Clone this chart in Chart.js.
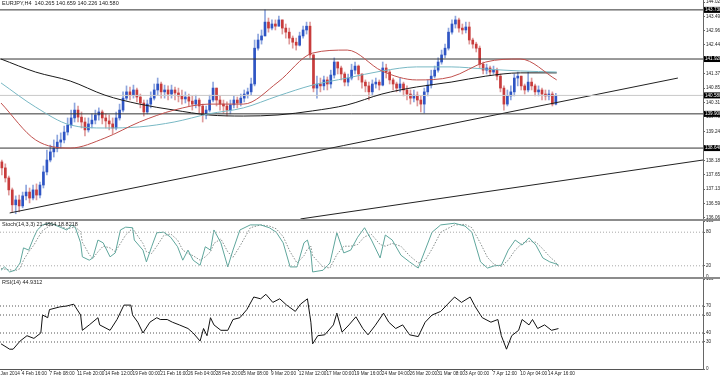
<!DOCTYPE html>
<html lang="en">
  <head>
    <meta charset="UTF-8" />
    <title>EURJPY,H4</title>
    <script src="https://cdn.jsdelivr.net/npm/chart.js"></script>
    <style>
      body { margin: 0; background: #fff; width: 720px; height: 376px; overflow: hidden; position: relative; }
      canvas { position: absolute; left: 0; }
      .sep { position: absolute; left: 0; width: 720px; height: 2px; background: #8c8c8c; }
    </style>
  </head>
  <body>
    <canvas id="mainChart" style="top:0" width="720" height="219"></canvas>
    <div class="sep" style="top:219px"></div>
    <canvas id="stochChart" style="top:221px" width="720" height="56"></canvas>
    <div class="sep" style="top:277px"></div>
    <canvas id="rsiChart" style="top:279px" width="720" height="97"></canvas>

    <script>
      // candles: each one covers two H4 bars
      const firstOpen = 138.13;
      const closes = [
        137.91, 137.54, 137.10, 136.55, 136.73, 136.51, 136.88, 137.02, 136.80, 137.10, 136.91,
        137.28, 137.76, 138.20, 138.50, 138.64, 138.86, 138.94, 139.23, 139.49, 139.75,
        140.04, 139.78, 139.60, 139.31, 139.53, 139.67, 139.86, 139.97, 139.75, 139.64,
        139.53, 139.38, 139.75, 140.04, 140.48, 140.71, 140.59, 140.78, 140.52, 140.30,
        139.97, 140.26, 140.48, 140.78, 141.00, 140.71, 140.78, 140.63, 140.78, 140.67,
        140.56, 140.45, 140.52, 140.37, 140.26, 140.41, 140.19, 139.86, 140.04, 140.41,
        140.85, 140.41, 140.26, 140.19, 140.04, 140.23, 140.41, 140.30, 140.48, 140.63,
        140.71, 141.00, 142.32, 142.62, 142.77, 143.28, 143.06, 143.21, 143.13, 143.36,
        143.06, 142.91, 142.69, 142.54, 142.43, 142.77, 142.99, 143.13, 142.07, 140.85,
        141.00, 140.93, 141.15, 141.00, 141.33, 141.81, 141.59, 141.37, 141.07, 141.22,
        141.51, 141.66, 141.37, 141.07, 140.93, 140.71, 141.00, 141.07, 140.96, 141.59,
        141.44, 141.15, 141.00, 140.85, 141.00, 140.78, 140.63, 140.48, 140.59, 140.41,
        140.26, 140.71, 140.96, 141.29, 141.51, 141.81, 142.07, 142.32, 142.91, 143.21,
        143.36, 143.06, 142.99, 143.10, 142.62, 142.47, 142.32, 141.73, 141.51, 141.59,
        141.44, 141.51, 141.29, 140.85, 140.26, 140.56, 140.71, 141.22, 141.29, 140.93,
        140.78, 141.07, 140.93, 140.71, 140.78, 140.63, 140.56, 140.63, 140.26, 140.58
      ];
      const highs = [
        138.20, 138.06, 137.61, 137.17, 136.88, 136.91, 137.02, 137.28, 137.17, 137.28, 137.32,
        137.39, 137.98, 138.57, 138.75, 138.94, 139.12, 139.20, 139.45, 139.75, 140.04,
        140.30, 140.19, 139.97, 139.75, 139.75, 139.90, 140.04, 140.12, 140.04, 139.90,
        139.86, 139.75, 139.97, 140.26, 140.71, 140.93, 140.89, 140.96, 140.85, 140.63,
        140.41, 140.41, 140.71, 141.00, 141.22, 141.07, 140.96, 140.93, 140.96, 140.89,
        140.85, 140.78, 140.71, 140.63, 140.56, 140.59, 140.48, 140.26, 140.19, 140.59,
        141.07, 140.85, 140.56, 140.41, 140.34, 140.41, 140.56, 140.52, 140.63, 140.78,
        140.85, 141.22, 142.62, 142.84, 142.99, 143.73, 143.43, 143.36, 143.36, 143.50,
        143.36, 143.21, 143.06, 142.77, 142.69, 142.91, 143.13, 143.28, 143.28, 142.10,
        141.29, 141.22, 141.29, 141.26, 141.51, 141.96, 141.81, 141.66, 141.44, 141.37,
        141.73, 141.81, 141.70, 141.37, 141.15, 141.07, 141.15, 141.22, 141.15, 141.81,
        141.73, 141.51, 141.22, 141.07, 141.22, 141.07, 140.93, 140.78, 140.78, 140.71,
        140.56, 140.85, 141.15, 141.51, 141.66, 141.96, 142.25, 142.47, 143.06, 143.36,
        143.50, 143.43, 143.21, 143.28, 143.28, 142.69, 142.54, 142.40, 141.81, 141.73,
        141.66, 141.66, 141.59, 141.37, 140.93, 140.78, 140.93, 141.37, 141.44, 141.29,
        141.00, 141.44, 141.22, 141.00, 140.93, 140.85, 140.78, 140.78, 140.71, 140.66
      ];
      const lows = [
        137.65, 137.39, 136.91, 136.29, 136.22, 136.29, 136.44, 136.73, 136.62, 136.73, 136.73,
        136.80, 137.17, 137.65, 138.13, 138.31, 138.50, 138.64, 138.83, 139.12, 139.38,
        139.60, 139.60, 139.38, 139.09, 139.23, 139.38, 139.53, 139.67, 139.53, 139.38,
        139.31, 139.16, 139.31, 139.67, 139.97, 140.41, 140.41, 140.48, 140.34, 140.12,
        139.82, 139.90, 140.12, 140.41, 140.59, 140.48, 140.48, 140.41, 140.48, 140.41,
        140.34, 140.26, 140.30, 140.19, 140.04, 140.12, 139.93, 139.60, 139.71, 139.97,
        140.34, 140.19, 140.04, 139.93, 139.82, 139.90, 140.12, 140.12, 140.19, 140.34,
        140.48, 140.59, 140.93, 142.25, 142.47, 142.77, 142.91, 142.99, 142.99, 143.13,
        142.84, 142.69, 142.47, 142.32, 142.25, 142.40, 142.69, 142.84, 141.96, 140.71,
        140.48, 140.71, 140.78, 140.78, 140.85, 141.22, 141.37, 141.15, 140.93, 140.93,
        141.15, 141.37, 141.15, 140.85, 140.71, 140.41, 140.59, 140.85, 140.78, 140.93,
        141.22, 141.00, 140.78, 140.71, 140.71, 140.56, 140.41, 140.26, 140.34, 140.19,
        139.97, 139.93, 140.56, 140.85, 141.22, 141.44, 141.73, 141.96, 142.25, 142.84,
        143.06, 142.91, 142.84, 142.88, 142.47, 142.32, 142.18, 141.59, 141.37, 141.37,
        141.33, 141.37, 141.15, 140.71, 140.04, 140.19, 140.41, 140.56, 140.93, 140.78,
        140.63, 140.71, 140.78, 140.56, 140.56, 140.41, 140.41, 140.41, 140.19, 140.23
      ];

      // moving averages, sampled at these bars
      const maBars = [0, 20, 40, 60, 80, 100, 120, 140, 160, 180, 200, 220, 240, 260, 280, 300, 321];
      const blackMA = [141.92, 141.44, 141.11, 140.59, 140.26, 140.04, 139.86, 139.82, 139.86, 140.01, 140.23, 140.63, 140.89, 141.07, 141.29, 141.41, 141.41];
      const tealMA = [141.04, 140.15, 139.49, 139.38, 139.42, 139.60, 139.90, 140.12, 140.56, 140.96, 141.22, 141.48, 141.63, 141.63, 141.55, 141.48, 141.44];
      const redMA = [140.30, 138.94, 138.64, 139.01, 139.60, 140.04, 140.26, 140.26, 141.07, 142.14, 142.25, 141.48, 141.15, 141.26, 141.81, 141.92, 141.15];

      // drawn objects
      const hLevels = [143.73, 141.92, 139.90, 138.64];
      const bidPrice = 140.58;
      const trend1Bars = [5, 391];
      const trend1 = [136.25, 141.22];
      const trend2Bars = [173, 405.5];
      const trend2 = [136.03, 138.20];

      const priceTicks = [144.020, 143.495, 142.965, 142.440, 141.375, 140.850, 140.310, 139.785, 139.245, 138.180, 137.655, 137.130, 136.590, 136.065];

      // stochastic (14,3,3)
      const stochBars = [0, 2, 5, 8, 11, 13, 16, 19, 21, 24, 28, 31, 35, 38, 41, 43, 46, 47, 51, 53, 56, 59, 63, 66, 69, 72, 76, 77, 82, 84, 87, 90, 94, 98, 102, 105, 108, 111, 115, 118, 121, 123, 127, 131, 134, 138, 144, 150, 155, 159, 163, 167, 171, 175, 177, 179, 180, 186, 190, 194, 198, 202, 206, 210, 214, 219, 222, 226, 231, 236, 241, 245, 249, 254, 262, 268, 272, 277, 281, 285, 289, 293, 297, 301, 305, 309, 313, 317, 320, 322];
      const stochMain = [12, 18, 9, 12, 25, 52, 48, 71, 84, 93, 96, 93, 88, 84, 93, 88, 61, 36, 30, 34, 66, 61, 36, 43, 84, 89, 88, 66, 48, 27, 54, 79, 80, 71, 54, 30, 48, 30, 21, 54, 48, 84, 61, 18, 48, 84, 93, 93, 88, 80, 61, 18, 18, 61, 66, 43, 9, 12, 25, 79, 43, 48, 71, 88, 66, 34, 75, 66, 39, 27, 16, 48, 80, 93, 96, 91, 80, 27, 16, 20, 21, 48, 66, 57, 70, 57, 34, 27, 24, 21.49];
      const stochSignal = [15, 14, 13, 11, 15, 30, 45, 57, 68, 83, 91, 94, 90, 86, 88, 89, 81, 62, 40, 33, 45, 55, 52, 45, 60, 75, 87, 82, 60, 45, 42, 55, 74, 77, 66, 48, 42, 38, 30, 36, 45, 60, 68, 45, 35, 55, 88, 93, 91, 86, 72, 45, 25, 38, 50, 55, 38, 18, 16, 40, 55, 55, 58, 72, 76, 58, 55, 60, 55, 38, 25, 30, 50, 80, 93, 94, 88, 60, 35, 22, 19, 30, 48, 60, 64, 62, 50, 36, 28, 18.82];

      // RSI(14)
      const rsiBars = [0, 5, 7, 11, 15, 19, 23, 24, 27, 28, 34, 38, 42, 46, 47, 51, 56, 57, 63, 67, 71, 75, 76, 79, 82, 86, 90, 92, 96, 99, 103, 108, 111, 115, 117, 119, 121, 123, 127, 131, 134, 138, 142, 146, 150, 153, 157, 161, 165, 170, 173, 177, 179, 180, 183, 187, 192, 194, 197, 201, 205, 209, 212, 216, 221, 224, 228, 232, 236, 241, 245, 249, 254, 258, 262, 266, 271, 274, 278, 283, 287, 289, 292, 295, 299, 301, 305, 307, 310, 314, 318, 322];
      const rsiValues = [28, 22, 22, 31, 37, 34, 40, 60, 57, 66, 69, 70, 72, 60, 43, 49, 57, 49, 43, 55, 71, 71, 60, 52, 40, 52, 57, 55, 55, 52, 49, 45, 40, 31, 45, 37, 57, 49, 43, 43, 55, 57, 66, 80, 78, 83, 74, 78, 71, 64, 72, 78, 52, 28, 37, 38, 49, 62, 41, 49, 58, 45, 38, 48, 62, 52, 45, 49, 38, 36, 52, 60, 64, 72, 80, 74, 80, 69, 57, 52, 55, 37, 22, 37, 43, 55, 49, 55, 45, 49, 43, 44.93];

      const dateLabels = ["31 Jan 2014", "4 Feb 16:00", "7 Feb 08:00", "11 Feb 20:00", "14 Feb 12:00", "19 Feb 00:00", "21 Feb 16:00", "26 Feb 04:00", "28 Feb 20:00", "5 Mar 08:00", "9 Mar 20:00", "12 Mar 12:00", "17 Mar 00:00", "19 Mar 16:00", "24 Mar 04:00", "26 Mar 20:00", "31 Mar 08:00", "3 Apr 00:00", "7 Apr 12:00", "10 Apr 04:00", "14 Apr 16:00"];

      const X_MIN = -0.58;
      const X_MAX = 405.5;
      const FONT = '"Liberation Sans", Arial, sans-serif';
      Chart.defaults.font.family = FONT;
      Chart.defaults.color = "#222";

      const pts = (xs, ys) => xs.map((x, i) => ({ x: x, y: ys[i] }));
      const flat = (v) => [{ x: X_MIN, y: v }, { x: X_MAX, y: v }];

      const opens = closes.map((c, i) => (i === 0 ? firstOpen : closes[i - 1]));
      const candleX = closes.map((c, i) => 2 * i + 0.5);
      const isUp = closes.map((c, i) => c >= opens[i]);

      function rightAxis(min, max, ticks, fmt) {
        return {
          position: "right",
          min: min,
          max: max,
          afterBuildTicks: (s) => { s.ticks = ticks.map((v) => ({ value: v })); },
          afterFit: (s) => { s.width = 17; s.paddingTop = 0; s.paddingBottom = 0; },
          grid: { drawOnChartArea: false, tickLength: 2, color: "#666" },
          border: { color: "#666" },
          ticks: { font: { size: 4.6 }, color: "#222", padding: 1, callback: fmt },
        };
      }
      const hiddenX = { type: "linear", min: X_MIN, max: X_MAX, offset: false, display: false };

      function label(text) {
        return {
          id: "label",
          afterDraw(chart) {
            const ctx = chart.ctx;
            ctx.save();
            ctx.font = "5.5px " + FONT;
            ctx.fillStyle = "#222";
            ctx.textBaseline = "top";
            ctx.fillText(text, 2, 1);
            ctx.restore();
          },
        };
      }

      const priceBoxes = {
        id: "priceBoxes",
        afterDraw(chart) {
          const { ctx, scales } = chart;
          const y = scales.y;
          ctx.save();
          ctx.font = "4.6px " + FONT;
          ctx.textBaseline = "middle";
          hLevels.concat([bidPrice]).forEach((v) => {
            const py = y.getPixelForValue(v);
            ctx.fillStyle = "#000";
            ctx.fillRect(y.left + 1, py - 3, 17, 6);
            ctx.fillStyle = "#fff";
            ctx.fillText(v.toFixed(3), y.left + 2, py);
          });
          ctx.restore();
        },
      };

      const lineDs = (data, color, extra) =>
        Object.assign({ type: "line", data: data, borderColor: color, borderWidth: 1, pointRadius: 0, order: 0 }, extra || {});

      new Chart(document.getElementById("mainChart"), {
        type: "bar",
        data: {
          datasets: [
            lineDs(pts(maBars, redMA), "#c0504d", { cubicInterpolationMode: "monotone" }),
            lineDs(pts(maBars, tealMA), "#78b8c4", { cubicInterpolationMode: "monotone" }),
            lineDs(pts(maBars, blackMA), "#1a1a1a", { cubicInterpolationMode: "monotone" }),
            ...hLevels.map((v) => lineDs(flat(v), "#333")),
            lineDs(flat(bidPrice), "#c8c8c8"),
            lineDs(pts(trend1Bars, trend1), "#222"),
            lineDs(pts(trend2Bars, trend2), "#222"),
            {
              data: closes.map((c, i) => ({ x: candleX[i], y: [opens[i], c] })),
              backgroundColor: isUp.map((u) => (u ? "#2f55c4" : "#c83c3c")),
              barThickness: 2,
              minBarLength: 1,
              grouped: false,
              order: 1,
            },
            {
              data: closes.map((c, i) => ({ x: candleX[i], y: [lows[i], highs[i]] })),
              backgroundColor: isUp.map((u) => (u ? "#8ea6de" : "#de9a9a")),
              barThickness: 1,
              grouped: false,
              order: 2,
            },
          ],
        },
        options: {
          responsive: false,
          animation: false,
          devicePixelRatio: 1,
          layout: { padding: 0 },
          plugins: { legend: { display: false }, tooltip: { enabled: false } },
          scales: {
            x: hiddenX,
            y: rightAxis(136.028, 144.094, priceTicks, (v) => v.toFixed(3)),
          },
        },
        plugins: [priceBoxes, label("EURJPY,H4  140.265 140.659 140.226 140.580")],
      });

      new Chart(document.getElementById("stochChart"), {
        type: "line",
        data: {
          datasets: [
            lineDs(flat(80), "#a8a8a8", { borderDash: [1, 2] }),
            lineDs(flat(20), "#a8a8a8", { borderDash: [1, 2] }),
            lineDs(pts(stochBars, stochMain), "#5fa69c"),
            lineDs(pts(stochBars, stochSignal), "#868e8c", { borderDash: [1.5, 1.5] }),
          ],
        },
        options: {
          responsive: false,
          animation: false,
          devicePixelRatio: 1,
          layout: { padding: 0 },
          plugins: { legend: { display: false }, tooltip: { enabled: false } },
          scales: { x: hiddenX, y: rightAxis(0, 100, [0, 20, 80, 100], (v) => v) },
        },
        plugins: [label("Stoch(14,3,3) 21.4864 18.8218")],
      });

      new Chart(document.getElementById("rsiChart"), {
        type: "line",
        data: {
          datasets: [
            ...[70, 60, 40, 30].map((v) => lineDs(flat(v), "#555", { borderDash: [1, 2] })),
            lineDs(pts(rsiBars, rsiValues), "#111"),
          ],
        },
        options: {
          responsive: false,
          animation: false,
          devicePixelRatio: 1,
          layout: { padding: 0 },
          plugins: { legend: { display: false }, tooltip: { enabled: false } },
          scales: {
            x: {
              type: "linear",
              min: X_MIN,
              max: X_MAX,
              offset: false,
              afterBuildTicks: (s) => { s.ticks = dateLabels.map((d, k) => ({ value: -4 + 16 * k })); },
              afterFit: (s) => { s.height = 7; s.paddingLeft = 0; s.paddingRight = 0; },
              grid: { drawOnChartArea: false, tickLength: 2, color: "#666" },
              border: { color: "#555" },
              ticks: { autoSkip: false, maxRotation: 0, align: "start", padding: 0, font: { size: 4.7 }, color: "#222", callback: (v, i) => dateLabels[i] },
            },
            y: rightAxis(0, 100, [0, 30, 40, 60, 70, 100], (v) => v),
          },
        },
        plugins: [label("RSI(14) 44.9312")],
      });
    </script>
  </body>
</html>
